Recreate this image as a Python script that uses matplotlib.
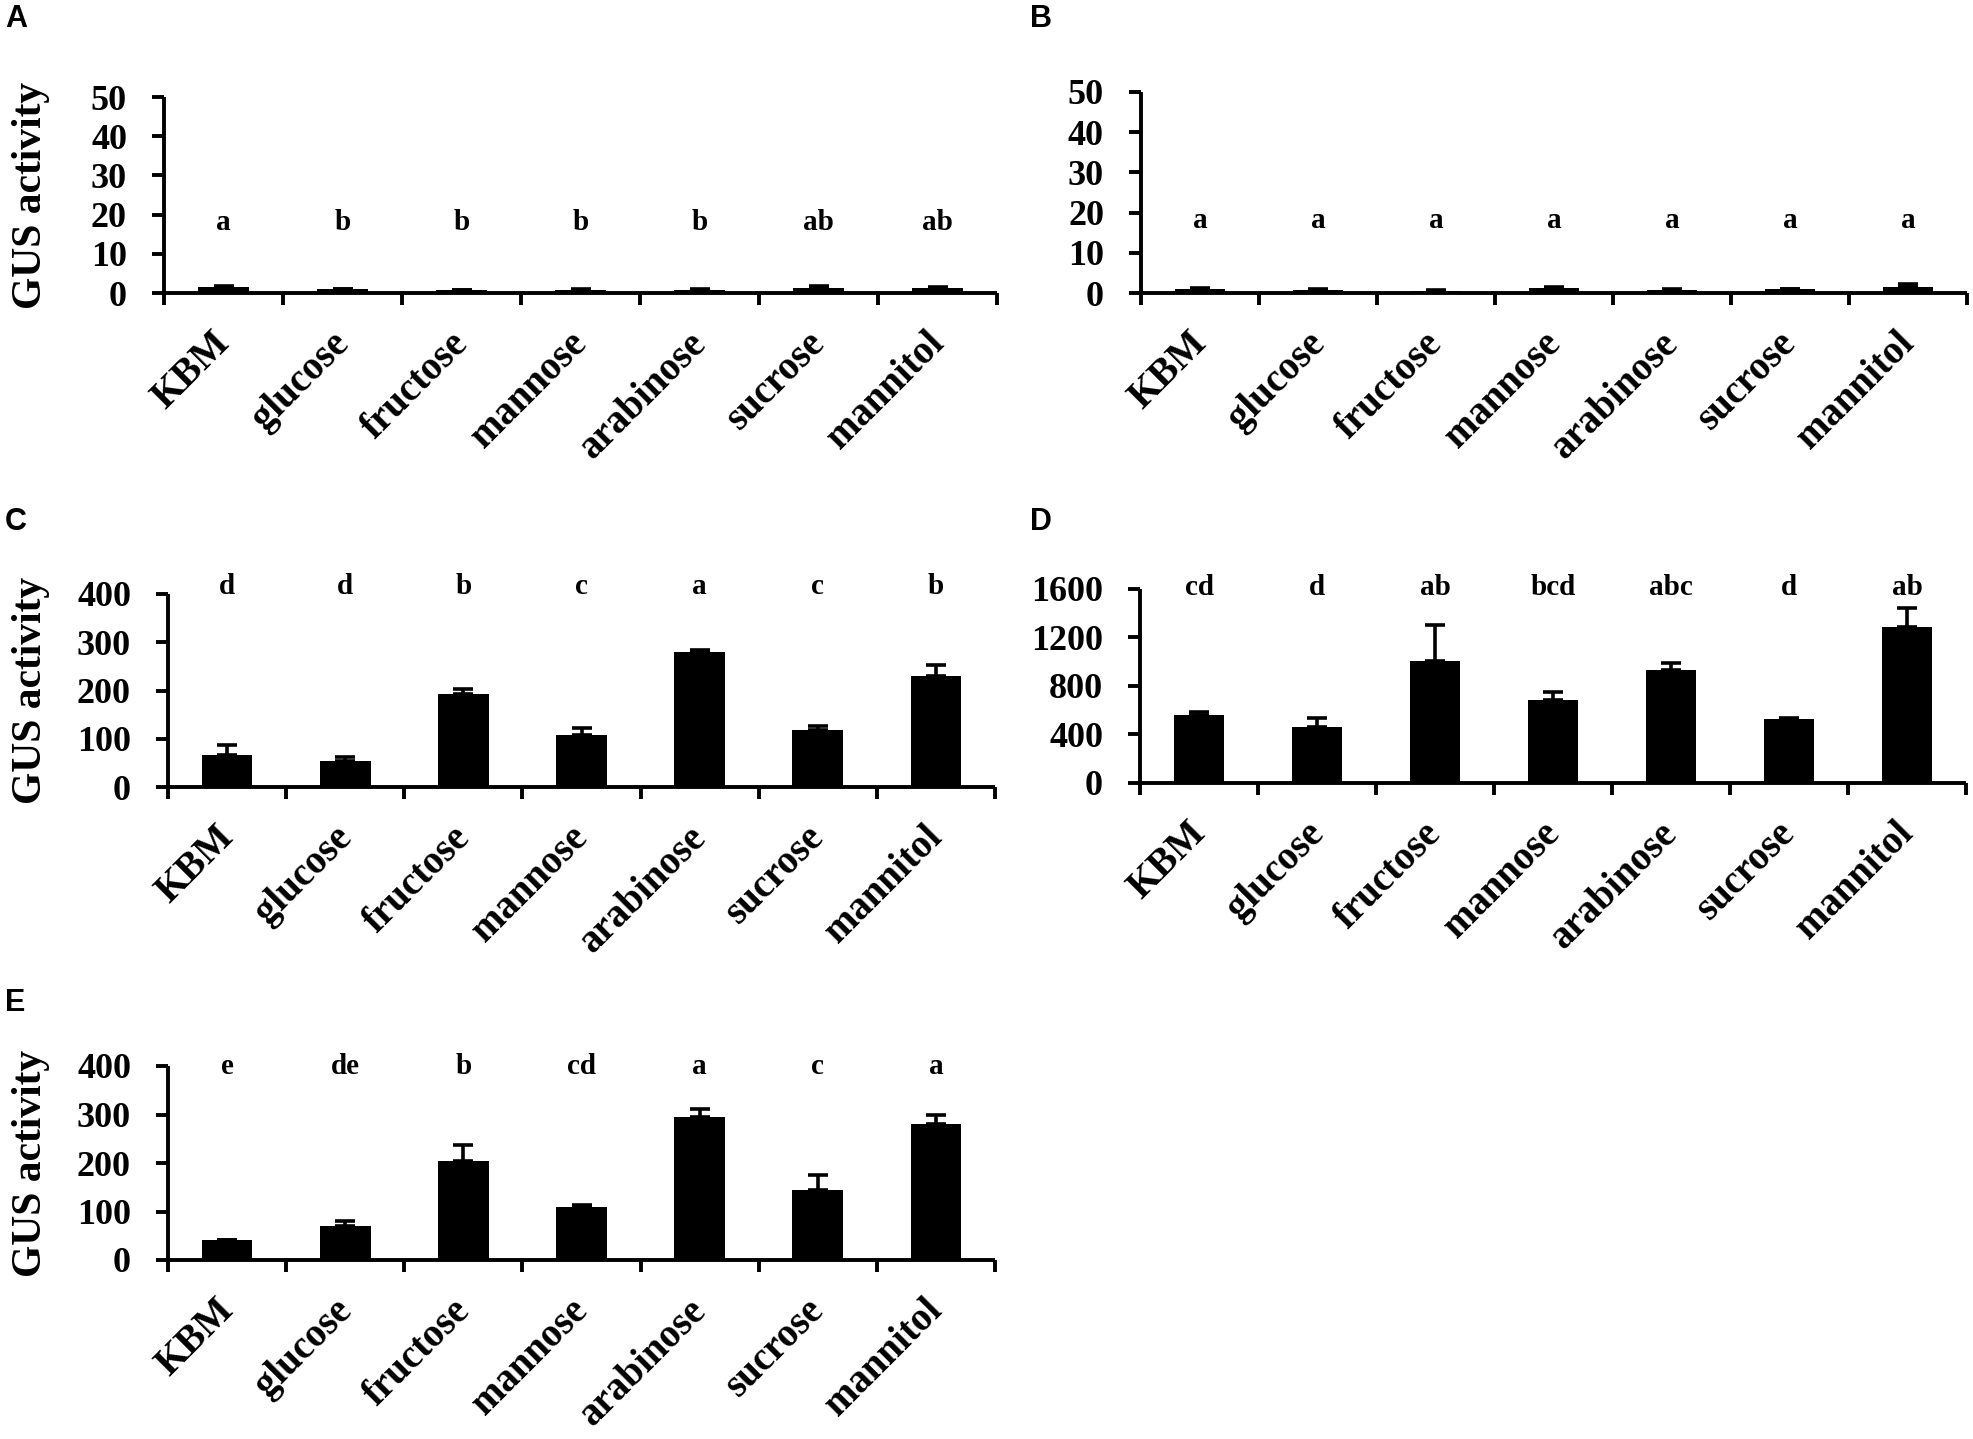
import numpy as np
import matplotlib
matplotlib.use("Agg")
import matplotlib.pyplot as plt
import matplotlib.transforms as mtransforms

W, H = 1973, 1439

categories = ['KBM', 'glucose', 'fructose', 'mannose', 'arabinose', 'sucrose', 'mannitol']

a_mean = [1.6, 0.9, 0.7, 0.8, 0.8, 1.4, 1.3]
a_err = [0.2, 0.2, 0.1, 0.2, 0.1, 0.3, 0.2]
a_letters = ['a', 'b', 'b', 'b', 'b', 'ab', 'ab']

b_mean = [1.0, 0.8, 0.6, 1.2, 0.8, 0.9, 1.5]
b_err = [0.2, 0.1, 0.2, 0.2, 0.1, 0.2, 0.7]
b_letters = ['a', 'a', 'a', 'a', 'a', 'a', 'a']

c_mean = [66, 53, 192, 107, 279, 119, 231]
c_err = [21, 9, 12, 16, 4, 8, 21]
c_letters = ['d', 'd', 'b', 'c', 'a', 'c', 'b']

d_mean = [563, 459, 1003, 682, 929, 528, 1287]
d_err = [20, 77, 297, 66, 63, 11, 153]
d_letters = ['cd', 'd', 'ab', 'bcd', 'abc', 'd', 'ab']

e_mean = [41, 71, 204, 110, 295, 145, 281]
e_err = [1, 10, 33, 3, 16, 30, 19]
e_letters = ['e', 'de', 'b', 'cd', 'a', 'c', 'a']

SERIF = 'Liberation Serif'
PX = 72 / 100  # points per pixel at dpi 100

# panel: (label, means, errs, letters, ymax, ystep, letter_y, box px [left, right, top, bottom], ylabel, label_y px)
panels = [
    ('A', a_mean, a_err, a_letters, 50, 10, 18.0, (164, 997, 97, 293), True, 19),
    ('B', b_mean, b_err, b_letters, 50, 10, 18.0, (1141, 1967, 92, 293), False, 19),
    ('C', c_mean, c_err, c_letters, 400, 100, 415, (168, 995, 594, 787), True, 522),
    ('D', d_mean, d_err, d_letters, 1600, 400, 1610, (1140, 1966, 589, 783), False, 522),
    ('E', e_mean, e_err, e_letters, 400, 100, 400, (168, 995, 1066, 1260), True, 1003),
]

fig = plt.figure(figsize=(W / 100, H / 100), dpi=100)

for label, mean, err, letters, ymax, ystep, ly, box, has_ylabel, label_y in panels:
    left, right, top, bottom = box
    ax = fig.add_axes([left / W, 1 - bottom / H, (right - left) / W, (bottom - top) / H])
    x = np.arange(len(categories))
    ax.bar(x, mean, width=0.43, color='black', zorder=3)
    ax.errorbar(x, mean, yerr=[np.zeros(len(err)), err], fmt='none', ecolor='black',
                elinewidth=2.6, capsize=7, capthick=2.6, zorder=2)

    ax.set_xlim(-0.5, len(categories) - 0.5)
    ax.set_ylim(0, ymax)
    ax.set_yticks(np.arange(0, ymax + 1, ystep))
    ax.spines['top'].set_visible(False)
    ax.spines['right'].set_visible(False)
    for s in ['left', 'bottom']:
        ax.spines[s].set_linewidth(2.8)
        ax.spines[s].set_capstyle('butt')

    ax.tick_params(axis='y', direction='out', length=12 * PX, width=2.8,
                   pad=25 * PX, labelsize=26)
    for t in ax.get_yticklabels():
        t.set_fontfamily(SERIF)
        t.set_fontweight('bold')

    ax.set_xticks(x)
    ax.set_xticks(np.arange(-0.5, len(categories), 1.0), minor=True)
    ax.tick_params(axis='x', which='major', length=0, pad=32 * PX)
    ax.tick_params(axis='x', which='minor', direction='out', length=12 * PX, width=2.8)
    ax.set_xticklabels(categories, rotation=45, ha='right', va='top',
                       rotation_mode='anchor', fontsize=28,
                       fontfamily=SERIF, fontweight='bold')
    offset = mtransforms.ScaledTranslation(-12 / 100, 0, fig.dpi_scale_trans)
    for t in ax.get_xticklabels():
        t.set_transform(t.get_transform() + offset)

    for xi, letter in zip(x, letters):
        ax.text(xi, ly, letter, ha='center', va='center', fontsize=21,
                fontfamily=SERIF, fontweight='bold', clip_on=False)

    if has_ylabel:
        fig.text(31 / W, 1 - (top + bottom) / 2 / H, 'GUS activity', rotation=90,
                 ha='center', va='center', fontsize=30, fontfamily=SERIF,
                 fontweight='bold')

    lx = 5 if left < 500 else 1030
    fig.text(lx / W, 1 - label_y / H, label, ha='left', va='center',
             fontsize=22, fontfamily='Liberation Sans', fontweight='bold')

fig.savefig('out.png', dpi=100)
